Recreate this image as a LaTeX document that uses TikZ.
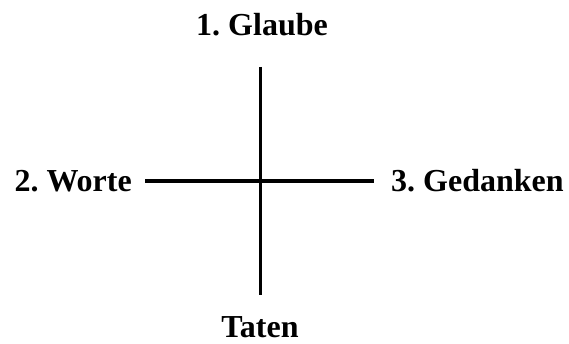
\documentclass[tikz,border=0pt]{standalone}
\usepackage{fontspec}
\setmainfont{Liberation Serif}
\usepackage{tikz}
\usetikzlibrary{positioning}
\frenchspacing
\tikzstyle{label} = [inner sep=0pt, font=\fontsize{32}{38}\selectfont\bfseries]
\tikzstyle{bar} = [line width=3.6pt]

\begin{document}
\begin{tikzpicture}[x=1pt, y=1pt]
        \useasboundingbox (0,0) rectangle (569,344);
        % Enden des Kreuzes
        \coordinate (top) at (260.5,277);
        \coordinate (bottom) at (260.5,49);
        \coordinate (left) at (145,163);
        \coordinate (right) at (374,163);

        % Beschriftungen
        \node (glaube) [label, anchor=base] at (262,308) {1. Glaube};
        \node (worte) [label, anchor=base east] at (132,152) {2. Worte};
        \node (gedanken) [label, anchor=base west] at (391,152) {3. Gedanken};
        \node (taten) [label, anchor=base] at (260,6) {Taten};

        % Kreuz
        \draw [bar] (top) -- (bottom);
        \draw [bar] (left) -- (right);
    \end{tikzpicture}
\end{document}
